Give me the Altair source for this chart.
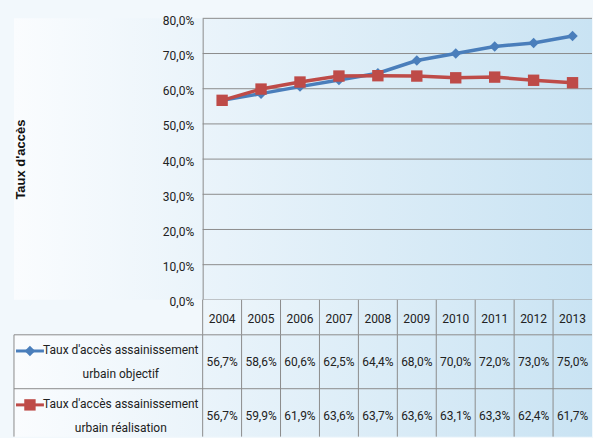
import altair as alt
import pandas as pd

# ---------------- data ----------------
years = [2004, 2005, 2006, 2007, 2008, 2009, 2010, 2011, 2012, 2013]
objectif = [56.7, 58.6, 60.6, 62.5, 64.4, 68.0, 70.0, 72.0, 73.0, 75.0]
realisation = [56.7, 59.9, 61.9, 63.6, 63.7, 63.6, 63.1, 63.3, 62.4, 61.7]
series = ["objectif", "réalisation"]
legend_labels = [
    "Taux d'accès assainissement\nurbain objectif",
    "Taux d'accès assainissement\nurbain réalisation",
]
y_ticks = [0, 10, 20, 30, 40, 50, 60, 70, 80]

# ---------------- style / layout ----------------
colors = ["#4a7ebb", "#be4b48"]
shapes = ["diamond", "square"]
FONT = "Roboto, Liberation Sans, sans-serif"
FS = 12
GRID = "#8c8c8c"
TEXT = "#222222"
N = len(years)
COL = 39.0            # px per year column
LEGEND_W = 189.0      # px of the legend column of the table
X_MIN = -LEGEND_W / COL
PLOT_W = LEGEND_W + COL * N
TOP_H = 282
HEAD_H = 35
ROW_H = 54
ROWS_H = 102
LINE_H = 24

xs = alt.Scale(domain=[X_MIN, N], nice=False, zero=False)

grad = alt.LinearGradient(
    gradient="linear",
    stops=[alt.GradientStop(color="#fafcfe", offset=0),
           alt.GradientStop(color="#c9e3f3", offset=1)],
    x1=0, x2=1, y1=0, y2=0,
)
grad_right = alt.LinearGradient(
    gradient="linear",
    stops=[alt.GradientStop(color="#eef6fb", offset=0),
           alt.GradientStop(color="#c9e3f3", offset=1)],
    x1=0, x2=1, y1=0, y2=0,
)

one = pd.DataFrame({"k": [0]})


def background(start=X_MIN, fill=grad):
    return alt.Chart(one).mark_rect(fill=fill).encode(
        x=alt.XDatum(start, scale=xs, axis=None),
        x2=alt.X2Datum(N),
    )


recs = []
for r, (s, vals) in enumerate(zip(series, [objectif, realisation])):
    for i, (yr, v) in enumerate(zip(years, vals)):
        recs.append({"series": s, "r": r, "year": yr, "idx": i, "value": v})
long_df = pd.DataFrame(recs)

color = alt.Color("series:N", scale=alt.Scale(domain=series, range=colors), legend=None)
shape = alt.Shape("series:N", scale=alt.Scale(domain=series, range=shapes), legend=None)

# ---------------- top: line chart ----------------
ys = alt.Scale(domain=[0, 80], nice=False, zero=True)
y_axis = alt.Axis(
    values=y_ticks,
    offset=-LEGEND_W,
    zindex=1,
    grid=False,
    ticks=False,
    domain=True,
    domainColor=GRID,
    domainWidth=1,
    labelPadding=9,
    labelOffset=2,
    labelExpr="replace(format(datum.value, '.1f'), '.', ',') + '%'",
    labelFont=FONT,
    labelFontSize=FS,
    labelColor=TEXT,
    title="Taux d'accès",
    titleFont="Liberation Sans, Arial, sans-serif",
    titleFontSize=13,
    titleFontWeight="bold",
    titleColor="#111111",
    titleAngle=270,
    titleAlign="center",
    titleBaseline="middle",
    titleX=19.5 - 202,
    titleY=TOP_H / 2,
)

grid_df = pd.DataFrame({"v": y_ticks})
grid = alt.Chart(grid_df).mark_rule(color=GRID, strokeWidth=1).encode(
    y=alt.Y("v:Q", scale=ys, axis=y_axis),
    x=alt.XDatum(0, scale=xs, axis=None),
    x2=alt.X2Datum(N),
)

line = alt.Chart(long_df).transform_calculate(pos="datum.idx + 0.5").mark_line(
    strokeWidth=3.5
).encode(
    x=alt.X("pos:Q", scale=xs, axis=None),
    y=alt.Y("value:Q", scale=ys, axis=y_axis),
    color=color,
)

pts = alt.Chart(long_df).transform_calculate(pos="datum.idx + 0.5").mark_point(
    filled=True, opacity=1
).encode(
    x=alt.X("pos:Q", scale=xs, axis=None),
    y=alt.Y("value:Q", scale=ys, axis=y_axis),
    color=color,
    shape=shape,
    size=alt.Size("series:N", scale=alt.Scale(domain=series, range=[110, 130]), legend=None),
)

top = alt.layer(background(), grid, line, pts).properties(width=PLOT_W, height=TOP_H)

# ---------------- header row (years) ----------------
year_df = pd.DataFrame({"year": years, "idx": list(range(N))})
bounds_df = pd.DataFrame({"b": list(range(N))})

head_rules = alt.Chart(bounds_df).mark_rule(color=GRID, strokeWidth=1).encode(
    x=alt.X("b:Q", scale=xs, axis=None)
)
head_text = alt.Chart(year_df).transform_calculate(pos="datum.idx + 0.5").mark_text(
    font=FONT, fontSize=FS, color=TEXT, dy=2
).encode(
    x=alt.X("pos:Q", scale=xs, axis=None),
    text="year:N",
)
head = alt.layer(background(0, grad_right), head_rules, head_text).properties(
    width=PLOT_W, height=HEAD_H
)

# ---------------- data table rows ----------------
yr_scale = alt.Scale(domain=[0, ROWS_H / ROW_H], nice=False, zero=False, reverse=True)

row_rules_v = alt.Chart(bounds_df).mark_rule(color=GRID, strokeWidth=1).encode(
    x=alt.X("b:Q", scale=xs, axis=None)
)
left_border = alt.Chart(one).mark_rule(color=GRID, strokeWidth=1).encode(
    x=alt.XDatum(X_MIN, scale=xs, axis=None)
)
h_df = pd.DataFrame({"h": [0, 1]})
row_rules_h = alt.Chart(h_df).mark_rule(color=GRID, strokeWidth=1).encode(
    y=alt.Y("h:Q", scale=yr_scale, axis=None)
)

cell_text = alt.Chart(long_df).transform_calculate(
    pos="datum.idx + 0.5",
    rowpos="datum.r + 0.5",
    label="replace(format(datum.value, '.1f'), '.', ',') + '%'",
).mark_text(font=FONT, fontSize=FS, color=TEXT).encode(
    x=alt.X("pos:Q", scale=xs, axis=None),
    y=alt.Y("rowpos:Q", scale=yr_scale, axis=None),
    text="label:N",
)

leg_df = pd.DataFrame({"series": series, "r": [0, 1], "label": legend_labels})
leg_text = alt.Chart(leg_df).transform_calculate(rowpos="datum.r + 0.5").mark_text(
    font=FONT, fontSize=FS, color=TEXT, lineBreak="\n", lineHeight=LINE_H,
    align="center", baseline="middle", dy=-LINE_H / 2,
).encode(
    x=alt.XDatum(X_MIN + 107 / COL, scale=xs, axis=None),
    y=alt.Y("rowpos:Q", scale=yr_scale, axis=None),
    text="label:N",
)
leg_line = alt.Chart(leg_df).transform_calculate(rowpos="datum.r + 0.3").mark_rule(
    strokeWidth=3
).encode(
    x=alt.XDatum(X_MIN + 2 / COL, scale=xs, axis=None),
    x2=alt.X2Datum(X_MIN + 30 / COL),
    y=alt.Y("rowpos:Q", scale=yr_scale, axis=None),
    color=color,
)
leg_pts = alt.Chart(leg_df).transform_calculate(rowpos="datum.r + 0.3").mark_point(
    filled=True, opacity=1
).encode(
    x=alt.XDatum(X_MIN + 16 / COL, scale=xs, axis=None),
    y=alt.Y("rowpos:Q", scale=yr_scale, axis=None),
    color=color,
    shape=shape,
    size=alt.Size("series:N", scale=alt.Scale(domain=series, range=[70, 85]), legend=None),
)

rows = alt.layer(
    background(), row_rules_v, left_border, row_rules_h, cell_text, leg_text, leg_line, leg_pts
).properties(width=PLOT_W, height=ROWS_H)

chart = alt.vconcat(top, head, rows, spacing=0, bounds="flush").properties(
    padding={"left": 13, "top": 14, "right": 0, "bottom": 0},
    background="#f2f8fc",
).configure_view(stroke=None)

chart.save("out.html", embed_options={"renderer": "svg", "actions": False})
